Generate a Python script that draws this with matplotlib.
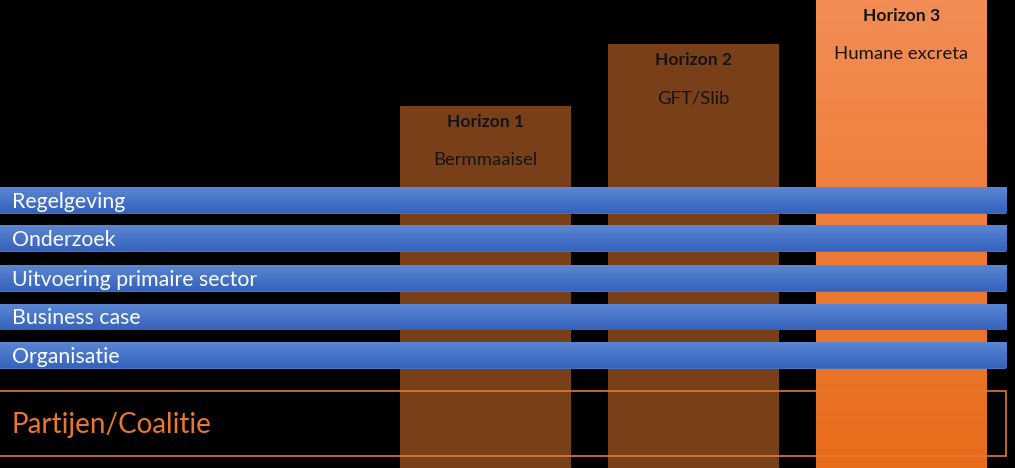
import numpy as np
import matplotlib
matplotlib.use('Agg')
import matplotlib.pyplot as plt
from matplotlib.colors import to_rgb

plt.rcParams['font.family'] = ['Lato', 'DejaVu Sans']

# horizons (vertical columns)
horizons = ['Horizon 1', 'Horizon 2', 'Horizon 3']
streams = ['Bermmaaisel', 'GFT/Slib', 'Humane excreta']
horizon_x = [485.5, 693.5, 901.5]
horizon_h = [362, 424, 468]

# themes (horizontal bars)
themes = ['Regelgeving', 'Onderzoek', 'Uitvoering primaire sector',
          'Business case', 'Organisatie']
theme_y = [267.25, 229.25, 189.25, 150.75, 112.25]
theme_len = 1006.5

W, H = 1015, 468
fig = plt.figure(figsize=(W / 100, H / 100), dpi=100, facecolor='black')
ax = fig.add_axes([0, 0, 1, 1])
ax.set_facecolor('black')
ax.set_xlim(0, W)
ax.set_ylim(0, H)
ax.axis('off')


def gradient(ax, patch, top, bottom, z):
    b = patch.get_bbox()
    t = np.linspace(0, 1, 64)[:, None]
    c1, c2 = np.array(to_rgb(top)), np.array(to_rgb(bottom))
    img = (c1 * (1 - t) + c2 * t)[:, None, :]
    ax.imshow(img, extent=[b.x0, b.x1, b.y0, b.y1], aspect='auto',
              zorder=z, interpolation='bilinear')


bars = ax.bar(horizon_x, horizon_h, width=171, color=['#783f19', '#783f19', '#ec7a30'],
              zorder=1)
gradient(ax, bars[2], '#f38d55', '#e86c1a', 1.5)

for x, h, name, sub in zip(horizon_x, horizon_h, horizons, streams):
    ax.text(x, h - 16, name, ha='center', va='center', fontsize=12.6,
            fontweight='bold', color='#141414', zorder=3)
    ax.text(x, h - 54, sub, ha='center', va='center', fontsize=13.3,
            color='#141414', zorder=3)

tbars = ax.barh(theme_y, theme_len, height=25.5, left=0, color='#4472c4',
                linewidth=0, zorder=4)
for p in tbars:
    gradient(ax, p, '#5b86d3', '#3563bd', 4.5)
for y, name in zip(theme_y, themes):
    ax.text(12, y - 1, name, ha='left', va='center', fontsize=15.3,
            color='white', zorder=6)

# partijen / coalitie box
ax.add_patch(plt.Rectangle((-2, 12.5), theme_len + 2, 64.5, fill=False,
                           edgecolor='#e07a35', linewidth=1.2, zorder=5))
ax.text(12, 43, 'Partijen/Coalitie', ha='left', va='center', fontsize=20,
        color='#e8782f', zorder=6)

fig.savefig('out.png', dpi=100, facecolor='black')
